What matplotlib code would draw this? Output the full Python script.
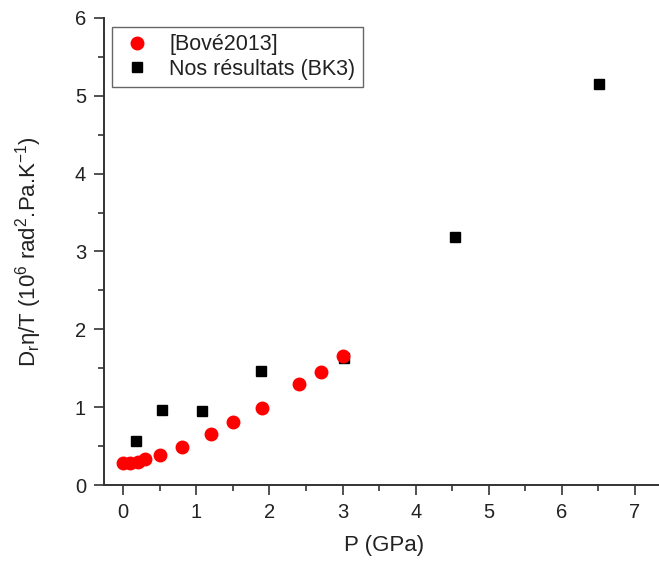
import matplotlib.pyplot as plt
from matplotlib.ticker import MultipleLocator

plt.rcParams['font.family'] = ['Liberation Sans', 'DejaVu Sans']
plt.rcParams['mathtext.fontset'] = 'custom'
plt.rcParams['mathtext.rm'] = 'Liberation Sans'
plt.rcParams['mathtext.it'] = 'Liberation Sans'

# [Bové2013]
bove_p = [0.0, 0.1, 0.2, 0.3, 0.5, 0.8, 1.2, 1.5, 1.9, 2.4, 2.7, 3.0]
bove_d = [0.28, 0.28, 0.30, 0.33, 0.39, 0.49, 0.65, 0.81, 0.99, 1.30, 1.45, 1.66]

# Nos résultats (BK3)
bk3_p = [0.17, 0.53, 1.08, 1.89, 3.02, 4.54, 6.51]
bk3_d = [0.56, 0.96, 0.95, 1.46, 1.63, 3.19, 5.15]

txt = "#222222"

fig = plt.figure(figsize=(6.59, 5.62), dpi=100)
ax = fig.add_axes([0.158, 0.137, 0.85, 0.831])

ax.plot(bk3_p, bk3_d, ls="none", marker="s", color="black", ms=7.5,
        label="Nos résultats (BK3)", zorder=2)
ax.plot(bove_p, bove_d, ls="none", marker="o", color="#ff0000", ms=9,
        label="[Bové2013]", zorder=3)

ax.set_xlim(-0.26, 7.4)
ax.set_ylim(0, 6)
ax.xaxis.set_major_locator(MultipleLocator(1))
ax.xaxis.set_minor_locator(MultipleLocator(0.5))
ax.yaxis.set_major_locator(MultipleLocator(1))
ax.yaxis.set_minor_locator(MultipleLocator(0.5))
ax.tick_params(which="major", direction="out", length=7, width=1.2,
               labelsize=14.5, pad=6, labelcolor=txt, color="#333333")
ax.tick_params(which="minor", direction="out", length=4, width=1.2, color="#333333")

for s in ["top", "right"]:
    ax.spines[s].set_visible(False)
for s in ["left", "bottom"]:
    ax.spines[s].set_linewidth(1.4)
    ax.spines[s].set_color("#333333")

ax.set_xlabel("P (GPa)", fontsize=16, labelpad=9, color=txt)
ax.set_ylabel(r"D$_\mathregular{r}$η/T (10$^\mathregular{6}$ rad$^\mathregular{2}$.Pa.K$^\mathregular{-1}$)",
              fontsize=16, labelpad=22, color=txt)

handles, labels = ax.get_legend_handles_labels()
leg = ax.legend(handles[::-1], labels[::-1], loc="upper left",
                bbox_to_anchor=(0.014, 0.981), borderaxespad=0,
                fontsize=15.5, fancybox=False,
                framealpha=1, edgecolor="#666666", handletextpad=0.7,
                borderpad=0.35, labelspacing=0.15, handlelength=1.6,
                markerscale=1.0)
for t in leg.get_texts():
    t.set_color(txt)
leg.get_frame().set_linewidth(1.0)

fig.savefig("out.png", dpi=100)
